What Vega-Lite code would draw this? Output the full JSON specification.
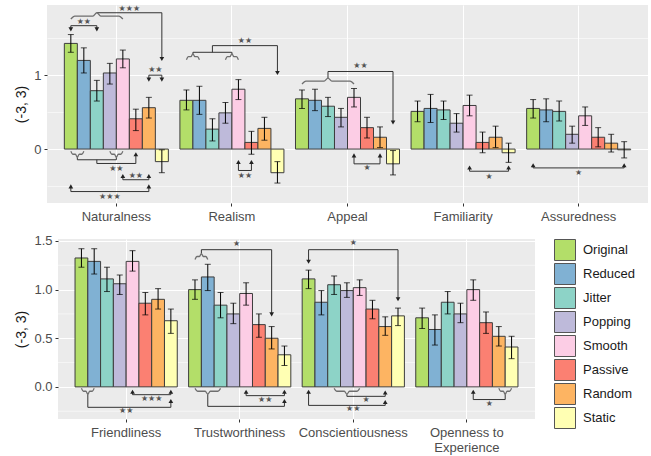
{
  "$schema": "https://vega.github.io/schema/vega-lite/v6.json",
  "background": "white",
  "padding": {"left": 13, "top": 4, "right": 2, "bottom": 2},
  "columns": 2,
  "align": "none",
  "spacing": {"row": 10, "column": 0},
  "resolve": {"scale": {"fill": "independent"}, "legend": {"fill": "independent"}},
  "config": {
    "font": "Liberation Sans",
    "view": {"fill": "#ebebeb", "stroke": null},
    "axis": {
      "domain": false,
      "minExtent": 0,
      "tickColor": "#333333",
      "tickSize": 3,
      "labelColor": "#4d4d4d",
      "labelFontSize": 13,
      "labelFont": "Liberation Sans",
      "titleFont": "Liberation Sans",
      "titleFontSize": 14,
      "titleFontWeight": "normal",
      "titleColor": "#1a1a1a",
      "gridColor": "white"
    },
    "axisY": {"minExtent": 0},
    "legend": {
      "title": null,
      "symbolType": "square",
      "symbolSize": 441,
      "symbolStrokeColor": "#555555",
      "symbolStrokeWidth": 1,
      "symbolOpacity": 1,
      "labelFontSize": 13,
      "labelFont": "Liberation Sans",
      "labelColor": "#1a1a1a",
      "rowPadding": -3.6,
      "labelOffset": 7,
      "offset": 19,
      "padding": 0
    }
  },
  "datasets": {
    "top": [
      {"trait": "Naturalness", "cond": "Original", "m": 1.43, "lo": 1.31, "hi": 1.55},
      {"trait": "Naturalness", "cond": "Reduced", "m": 1.20, "lo": 1.03, "hi": 1.37},
      {"trait": "Naturalness", "cond": "Jitter", "m": 0.79, "lo": 0.65, "hi": 0.93},
      {"trait": "Naturalness", "cond": "Popping", "m": 1.03, "lo": 0.88, "hi": 1.16},
      {"trait": "Naturalness", "cond": "Smooth", "m": 1.22, "lo": 1.10, "hi": 1.34},
      {"trait": "Naturalness", "cond": "Passive", "m": 0.41, "lo": 0.25, "hi": 0.54},
      {"trait": "Naturalness", "cond": "Random", "m": 0.56, "lo": 0.42, "hi": 0.70},
      {"trait": "Naturalness", "cond": "Static", "m": -0.17, "lo": -0.32, "hi": -0.01},
      {"trait": "Realism", "cond": "Original", "m": 0.66, "lo": 0.53, "hi": 0.80},
      {"trait": "Realism", "cond": "Reduced", "m": 0.66, "lo": 0.47, "hi": 0.85},
      {"trait": "Realism", "cond": "Jitter", "m": 0.27, "lo": 0.11, "hi": 0.41},
      {"trait": "Realism", "cond": "Popping", "m": 0.49, "lo": 0.35, "hi": 0.63},
      {"trait": "Realism", "cond": "Smooth", "m": 0.81, "lo": 0.67, "hi": 0.94},
      {"trait": "Realism", "cond": "Passive", "m": 0.09, "lo": -0.07, "hi": 0.24},
      {"trait": "Realism", "cond": "Random", "m": 0.28, "lo": 0.12, "hi": 0.43},
      {"trait": "Realism", "cond": "Static", "m": -0.32, "lo": -0.46, "hi": -0.17},
      {"trait": "Appeal", "cond": "Original", "m": 0.68, "lo": 0.55, "hi": 0.80},
      {"trait": "Appeal", "cond": "Reduced", "m": 0.66, "lo": 0.52, "hi": 0.81},
      {"trait": "Appeal", "cond": "Jitter", "m": 0.58, "lo": 0.44, "hi": 0.70},
      {"trait": "Appeal", "cond": "Popping", "m": 0.43, "lo": 0.30, "hi": 0.55},
      {"trait": "Appeal", "cond": "Smooth", "m": 0.70, "lo": 0.57, "hi": 0.82},
      {"trait": "Appeal", "cond": "Passive", "m": 0.29, "lo": 0.15, "hi": 0.43},
      {"trait": "Appeal", "cond": "Random", "m": 0.16, "lo": 0.02, "hi": 0.30},
      {"trait": "Appeal", "cond": "Static", "m": -0.20, "lo": -0.35, "hi": -0.02},
      {"trait": "Familiarity", "cond": "Original", "m": 0.51, "lo": 0.37, "hi": 0.65},
      {"trait": "Familiarity", "cond": "Reduced", "m": 0.55, "lo": 0.36, "hi": 0.74},
      {"trait": "Familiarity", "cond": "Jitter", "m": 0.53, "lo": 0.40, "hi": 0.65},
      {"trait": "Familiarity", "cond": "Popping", "m": 0.35, "lo": 0.23, "hi": 0.48},
      {"trait": "Familiarity", "cond": "Smooth", "m": 0.59, "lo": 0.45, "hi": 0.73},
      {"trait": "Familiarity", "cond": "Passive", "m": 0.09, "lo": -0.05, "hi": 0.23},
      {"trait": "Familiarity", "cond": "Random", "m": 0.16, "lo": 0.02, "hi": 0.31},
      {"trait": "Familiarity", "cond": "Static", "m": -0.05, "lo": -0.18, "hi": 0.08},
      {"trait": "Assuredness", "cond": "Original", "m": 0.55, "lo": 0.42, "hi": 0.67},
      {"trait": "Assuredness", "cond": "Reduced", "m": 0.53, "lo": 0.37, "hi": 0.68},
      {"trait": "Assuredness", "cond": "Jitter", "m": 0.51, "lo": 0.38, "hi": 0.65},
      {"trait": "Assuredness", "cond": "Popping", "m": 0.20, "lo": 0.08, "hi": 0.31},
      {"trait": "Assuredness", "cond": "Smooth", "m": 0.45, "lo": 0.32, "hi": 0.57},
      {"trait": "Assuredness", "cond": "Passive", "m": 0.16, "lo": 0.03, "hi": 0.29},
      {"trait": "Assuredness", "cond": "Random", "m": 0.08, "lo": -0.04, "hi": 0.20},
      {"trait": "Assuredness", "cond": "Static", "m": -0.01, "lo": -0.12, "hi": 0.10}
    ],
    "bottom": [
      {"trait": "Friendliness", "cond": "Original", "m": 1.325, "lo": 1.23, "hi": 1.42},
      {"trait": "Friendliness", "cond": "Reduced", "m": 1.29, "lo": 1.16, "hi": 1.42},
      {"trait": "Friendliness", "cond": "Jitter", "m": 1.11, "lo": 0.98, "hi": 1.23},
      {"trait": "Friendliness", "cond": "Popping", "m": 1.06, "lo": 0.95, "hi": 1.15},
      {"trait": "Friendliness", "cond": "Smooth", "m": 1.29, "lo": 1.19, "hi": 1.40},
      {"trait": "Friendliness", "cond": "Passive", "m": 0.86, "lo": 0.74, "hi": 0.97},
      {"trait": "Friendliness", "cond": "Random", "m": 0.90, "lo": 0.80, "hi": 1.01},
      {"trait": "Friendliness", "cond": "Static", "m": 0.68, "lo": 0.55, "hi": 0.80},
      {"trait": "Trustworthiness", "cond": "Original", "m": 1.00, "lo": 0.90, "hi": 1.10},
      {"trait": "Trustworthiness", "cond": "Reduced", "m": 1.13, "lo": 0.99, "hi": 1.26},
      {"trait": "Trustworthiness", "cond": "Jitter", "m": 0.84, "lo": 0.71, "hi": 0.97},
      {"trait": "Trustworthiness", "cond": "Popping", "m": 0.75, "lo": 0.65, "hi": 0.86},
      {"trait": "Trustworthiness", "cond": "Smooth", "m": 0.96, "lo": 0.84, "hi": 1.07},
      {"trait": "Trustworthiness", "cond": "Passive", "m": 0.64, "lo": 0.51, "hi": 0.75},
      {"trait": "Trustworthiness", "cond": "Random", "m": 0.50, "lo": 0.39, "hi": 0.62},
      {"trait": "Trustworthiness", "cond": "Static", "m": 0.33, "lo": 0.22, "hi": 0.42},
      {"trait": "Conscientiousness", "cond": "Original", "m": 1.11, "lo": 1.01, "hi": 1.20},
      {"trait": "Conscientiousness", "cond": "Reduced", "m": 0.87, "lo": 0.74, "hi": 0.99},
      {"trait": "Conscientiousness", "cond": "Jitter", "m": 1.05, "lo": 0.95, "hi": 1.14},
      {"trait": "Conscientiousness", "cond": "Popping", "m": 0.99, "lo": 0.92, "hi": 1.07},
      {"trait": "Conscientiousness", "cond": "Smooth", "m": 1.02, "lo": 0.94, "hi": 1.10},
      {"trait": "Conscientiousness", "cond": "Passive", "m": 0.80, "lo": 0.70, "hi": 0.89},
      {"trait": "Conscientiousness", "cond": "Random", "m": 0.62, "lo": 0.53, "hi": 0.72},
      {"trait": "Conscientiousness", "cond": "Static", "m": 0.73, "lo": 0.63, "hi": 0.81},
      {"trait": "Openness to Experience", "cond": "Original", "m": 0.71, "lo": 0.60, "hi": 0.81},
      {"trait": "Openness to Experience", "cond": "Reduced", "m": 0.59, "lo": 0.43, "hi": 0.74},
      {"trait": "Openness to Experience", "cond": "Jitter", "m": 0.87, "lo": 0.75, "hi": 0.98},
      {"trait": "Openness to Experience", "cond": "Popping", "m": 0.75, "lo": 0.66, "hi": 0.86},
      {"trait": "Openness to Experience", "cond": "Smooth", "m": 1.00, "lo": 0.89, "hi": 1.10},
      {"trait": "Openness to Experience", "cond": "Passive", "m": 0.66, "lo": 0.55, "hi": 0.77},
      {"trait": "Openness to Experience", "cond": "Random", "m": 0.52, "lo": 0.42, "hi": 0.62},
      {"trait": "Openness to Experience", "cond": "Static", "m": 0.41, "lo": 0.29, "hi": 0.52}
    ],
    "minor_bot": [{"g": -0.25}, {"g": 0.25}, {"g": 0.75}, {"g": 1.25}],
    "lines_top": [
      {"trait": "Naturalness", "g": "n1", "o": 1, "s": 2, "v": 1.845},
      {"trait": "Naturalness", "g": "n1", "o": 2, "s": 7, "v": 1.845},
      {"trait": "Naturalness", "g": "n1", "o": 3, "s": 7, "v": 1.22},
      {"trait": "Naturalness", "g": "n2", "o": 1, "s": 0, "v": 1.62},
      {"trait": "Naturalness", "g": "n2", "o": 2, "s": 0, "v": 1.67},
      {"trait": "Naturalness", "g": "n2", "o": 3, "s": 2, "v": 1.67},
      {"trait": "Naturalness", "g": "n2", "o": 4, "s": 2, "v": 1.62},
      {"trait": "Naturalness", "g": "n3", "o": 1, "s": 6, "v": 0.94},
      {"trait": "Naturalness", "g": "n3", "o": 2, "s": 6, "v": 1.0},
      {"trait": "Naturalness", "g": "n3", "o": 3, "s": 7, "v": 1.0},
      {"trait": "Naturalness", "g": "n3", "o": 4, "s": 7, "v": 0.94},
      {"trait": "Naturalness", "g": "n4", "o": 1, "s": 0.5, "v": -0.11},
      {"trait": "Naturalness", "g": "n4", "o": 2, "s": 0.5, "v": -0.145},
      {"trait": "Naturalness", "g": "n4", "o": 3, "s": 3.5, "v": -0.145},
      {"trait": "Naturalness", "g": "n4", "o": 4, "s": 3.5, "v": -0.11},
      {"trait": "Naturalness", "g": "n5", "o": 1, "s": 2, "v": -0.145},
      {"trait": "Naturalness", "g": "n5", "o": 2, "s": 2, "v": -0.195},
      {"trait": "Naturalness", "g": "n5", "o": 3, "s": 5, "v": -0.195},
      {"trait": "Naturalness", "g": "n5", "o": 4, "s": 5, "v": -0.07},
      {"trait": "Naturalness", "g": "n6", "o": 1, "s": 4, "v": -0.365},
      {"trait": "Naturalness", "g": "n6", "o": 2, "s": 4, "v": -0.415},
      {"trait": "Naturalness", "g": "n6", "o": 3, "s": 6, "v": -0.415},
      {"trait": "Naturalness", "g": "n6", "o": 4, "s": 6, "v": -0.365},
      {"trait": "Naturalness", "g": "n7", "o": 1, "s": 0, "v": -0.505},
      {"trait": "Naturalness", "g": "n7", "o": 2, "s": 0, "v": -0.575},
      {"trait": "Naturalness", "g": "n7", "o": 3, "s": 6, "v": -0.575},
      {"trait": "Naturalness", "g": "n7", "o": 4, "s": 6, "v": -0.505},
      {"trait": "Realism", "g": "r1", "o": 1, "s": 0.5, "v": 1.29},
      {"trait": "Realism", "g": "r1", "o": 2, "s": 0.5, "v": 1.31},
      {"trait": "Realism", "g": "r1", "o": 3, "s": 3.5, "v": 1.31},
      {"trait": "Realism", "g": "r1", "o": 4, "s": 3.5, "v": 1.29},
      {"trait": "Realism", "g": "r2", "o": 1, "s": 2, "v": 1.31},
      {"trait": "Realism", "g": "r2", "o": 2, "s": 2, "v": 1.40},
      {"trait": "Realism", "g": "r2", "o": 3, "s": 7, "v": 1.40},
      {"trait": "Realism", "g": "r2", "o": 4, "s": 7, "v": 1.03},
      {"trait": "Realism", "g": "r3", "o": 1, "s": 4, "v": -0.175},
      {"trait": "Realism", "g": "r3", "o": 2, "s": 4, "v": -0.29},
      {"trait": "Realism", "g": "r3", "o": 3, "s": 5, "v": -0.29},
      {"trait": "Realism", "g": "r3", "o": 4, "s": 5, "v": -0.175},
      {"trait": "Appeal", "g": "a1", "o": 1, "s": 2, "v": 0.96},
      {"trait": "Appeal", "g": "a1", "o": 2, "s": 2, "v": 1.05},
      {"trait": "Appeal", "g": "a1", "o": 3, "s": 7, "v": 1.05},
      {"trait": "Appeal", "g": "a1", "o": 4, "s": 7, "v": 0.36},
      {"trait": "Appeal", "g": "a2", "o": 1, "s": 4, "v": -0.085},
      {"trait": "Appeal", "g": "a2", "o": 2, "s": 4, "v": -0.20},
      {"trait": "Appeal", "g": "a2", "o": 3, "s": 6, "v": -0.20},
      {"trait": "Appeal", "g": "a2", "o": 4, "s": 6, "v": -0.085},
      {"trait": "Familiarity", "g": "f1", "o": 1, "s": 4, "v": -0.25},
      {"trait": "Familiarity", "g": "f1", "o": 2, "s": 4, "v": -0.30},
      {"trait": "Familiarity", "g": "f1", "o": 3, "s": 7, "v": -0.30},
      {"trait": "Familiarity", "g": "f1", "o": 4, "s": 7, "v": -0.25},
      {"trait": "Assuredness", "g": "s1", "o": 1, "s": 0, "v": -0.22},
      {"trait": "Assuredness", "g": "s1", "o": 2, "s": 0, "v": -0.255},
      {"trait": "Assuredness", "g": "s1", "o": 3, "s": 7, "v": -0.255},
      {"trait": "Assuredness", "g": "s1", "o": 4, "s": 7, "v": -0.22}
    ],
    "braces_top": [
      {"trait": "Naturalness", "g": "nb1", "o": 1, "s": 0, "v": 1.76},
      {"trait": "Naturalness", "g": "nb1", "o": 2, "s": 0.3, "v": 1.80},
      {"trait": "Naturalness", "g": "nb1", "o": 3, "s": 1.7, "v": 1.80},
      {"trait": "Naturalness", "g": "nb1", "o": 4, "s": 2, "v": 1.845},
      {"trait": "Naturalness", "g": "nb1", "o": 5, "s": 2.3, "v": 1.80},
      {"trait": "Naturalness", "g": "nb1", "o": 6, "s": 3.7, "v": 1.80},
      {"trait": "Naturalness", "g": "nb1", "o": 7, "s": 4, "v": 1.76},
      {"trait": "Naturalness", "g": "nb2", "o": 1, "s": 0, "v": -0.03},
      {"trait": "Naturalness", "g": "nb2", "o": 2, "s": 0.15, "v": -0.07},
      {"trait": "Naturalness", "g": "nb2", "o": 3, "s": 0.35, "v": -0.07},
      {"trait": "Naturalness", "g": "nb2", "o": 4, "s": 0.5, "v": -0.11},
      {"trait": "Naturalness", "g": "nb2", "o": 5, "s": 0.65, "v": -0.07},
      {"trait": "Naturalness", "g": "nb2", "o": 6, "s": 0.85, "v": -0.07},
      {"trait": "Naturalness", "g": "nb2", "o": 7, "s": 1, "v": -0.03},
      {"trait": "Naturalness", "g": "nb3", "o": 1, "s": 3, "v": -0.03},
      {"trait": "Naturalness", "g": "nb3", "o": 2, "s": 3.15, "v": -0.07},
      {"trait": "Naturalness", "g": "nb3", "o": 3, "s": 3.35, "v": -0.07},
      {"trait": "Naturalness", "g": "nb3", "o": 4, "s": 3.5, "v": -0.11},
      {"trait": "Naturalness", "g": "nb3", "o": 5, "s": 3.65, "v": -0.07},
      {"trait": "Naturalness", "g": "nb3", "o": 6, "s": 3.85, "v": -0.07},
      {"trait": "Naturalness", "g": "nb3", "o": 7, "s": 4, "v": -0.03},
      {"trait": "Realism", "g": "rb1", "o": 1, "s": 0, "v": 1.21},
      {"trait": "Realism", "g": "rb1", "o": 2, "s": 0.15, "v": 1.25},
      {"trait": "Realism", "g": "rb1", "o": 3, "s": 0.35, "v": 1.25},
      {"trait": "Realism", "g": "rb1", "o": 4, "s": 0.5, "v": 1.29},
      {"trait": "Realism", "g": "rb1", "o": 5, "s": 0.65, "v": 1.25},
      {"trait": "Realism", "g": "rb1", "o": 6, "s": 0.85, "v": 1.25},
      {"trait": "Realism", "g": "rb1", "o": 7, "s": 1, "v": 1.21},
      {"trait": "Realism", "g": "rb2", "o": 1, "s": 3, "v": 1.21},
      {"trait": "Realism", "g": "rb2", "o": 2, "s": 3.15, "v": 1.25},
      {"trait": "Realism", "g": "rb2", "o": 3, "s": 3.35, "v": 1.25},
      {"trait": "Realism", "g": "rb2", "o": 4, "s": 3.5, "v": 1.29},
      {"trait": "Realism", "g": "rb2", "o": 5, "s": 3.65, "v": 1.25},
      {"trait": "Realism", "g": "rb2", "o": 6, "s": 3.85, "v": 1.25},
      {"trait": "Realism", "g": "rb2", "o": 7, "s": 4, "v": 1.21},
      {"trait": "Appeal", "g": "ab1", "o": 1, "s": 0, "v": 0.88},
      {"trait": "Appeal", "g": "ab1", "o": 2, "s": 0.3, "v": 0.92},
      {"trait": "Appeal", "g": "ab1", "o": 3, "s": 1.7, "v": 0.92},
      {"trait": "Appeal", "g": "ab1", "o": 4, "s": 2, "v": 0.96},
      {"trait": "Appeal", "g": "ab1", "o": 5, "s": 2.3, "v": 0.92},
      {"trait": "Appeal", "g": "ab1", "o": 6, "s": 3.7, "v": 0.92},
      {"trait": "Appeal", "g": "ab1", "o": 7, "s": 4, "v": 0.88}
    ],
    "arrows_top": [
      {"trait": "Naturalness", "s": 7, "v": 1.22, "dir": "down"},
      {"trait": "Naturalness", "s": 0, "v": 1.62, "dir": "down"},
      {"trait": "Naturalness", "s": 2, "v": 1.62, "dir": "down"},
      {"trait": "Naturalness", "s": 6, "v": 0.94, "dir": "down"},
      {"trait": "Naturalness", "s": 7, "v": 0.94, "dir": "down"},
      {"trait": "Naturalness", "s": 5, "v": -0.07, "dir": "up"},
      {"trait": "Naturalness", "s": 4, "v": -0.365, "dir": "up"},
      {"trait": "Naturalness", "s": 6, "v": -0.365, "dir": "up"},
      {"trait": "Naturalness", "s": 0, "v": -0.505, "dir": "up"},
      {"trait": "Naturalness", "s": 6, "v": -0.505, "dir": "up"},
      {"trait": "Realism", "s": 7, "v": 1.03, "dir": "down"},
      {"trait": "Realism", "s": 4, "v": -0.175, "dir": "up"},
      {"trait": "Realism", "s": 5, "v": -0.175, "dir": "up"},
      {"trait": "Appeal", "s": 7, "v": 0.36, "dir": "down"},
      {"trait": "Appeal", "s": 4, "v": -0.085, "dir": "up"},
      {"trait": "Appeal", "s": 6, "v": -0.085, "dir": "up"},
      {"trait": "Familiarity", "s": 4, "v": -0.25, "dir": "up"},
      {"trait": "Familiarity", "s": 7, "v": -0.25, "dir": "up"},
      {"trait": "Assuredness", "s": 0, "v": -0.22, "dir": "up"},
      {"trait": "Assuredness", "s": 7, "v": -0.22, "dir": "up"}
    ],
    "stars_top": [
      {"trait": "Naturalness", "s": 4.5, "v": 1.90, "t": "★★★"},
      {"trait": "Naturalness", "s": 1, "v": 1.72, "t": "★★"},
      {"trait": "Naturalness", "s": 6.5, "v": 1.07, "t": "★★"},
      {"trait": "Naturalness", "s": 3.5, "v": -0.27, "t": "★★"},
      {"trait": "Naturalness", "s": 5, "v": -0.36, "t": "★★"},
      {"trait": "Naturalness", "s": 3, "v": -0.65, "t": "★★★"},
      {"trait": "Realism", "s": 4.5, "v": 1.46, "t": "★★"},
      {"trait": "Realism", "s": 4.5, "v": -0.37, "t": "★★"},
      {"trait": "Appeal", "s": 4.5, "v": 1.13, "t": "★★"},
      {"trait": "Appeal", "s": 5, "v": -0.26, "t": "★"},
      {"trait": "Familiarity", "s": 5.5, "v": -0.375, "t": "★"},
      {"trait": "Assuredness", "s": 3.5, "v": -0.33, "t": "★"}
    ],
    "lines_bot": [
      {"trait": "Friendliness", "g": "F1", "o": 1, "s": 0.5, "v": -0.075},
      {"trait": "Friendliness", "g": "F1", "o": 2, "s": 0.5, "v": -0.21},
      {"trait": "Friendliness", "g": "F1", "o": 3, "s": 7, "v": -0.21},
      {"trait": "Friendliness", "g": "F1", "o": 4, "s": 7, "v": -0.145},
      {"trait": "Friendliness", "g": "F2", "o": 1, "s": 4, "v": -0.05},
      {"trait": "Friendliness", "g": "F2", "o": 2, "s": 4, "v": -0.08},
      {"trait": "Friendliness", "g": "F2", "o": 3, "s": 7, "v": -0.08},
      {"trait": "Friendliness", "g": "F2", "o": 4, "s": 7, "v": -0.05},
      {"trait": "Trustworthiness", "g": "T1", "o": 1, "s": 0.5, "v": 1.37},
      {"trait": "Trustworthiness", "g": "T1", "o": 2, "s": 0.5, "v": 1.41},
      {"trait": "Trustworthiness", "g": "T1", "o": 3, "s": 6, "v": 1.41},
      {"trait": "Trustworthiness", "g": "T1", "o": 4, "s": 6, "v": 0.745},
      {"trait": "Trustworthiness", "g": "T2", "o": 1, "s": 1, "v": -0.075},
      {"trait": "Trustworthiness", "g": "T2", "o": 2, "s": 1, "v": -0.20},
      {"trait": "Trustworthiness", "g": "T2", "o": 3, "s": 7, "v": -0.20},
      {"trait": "Trustworthiness", "g": "T2", "o": 4, "s": 7, "v": -0.145},
      {"trait": "Trustworthiness", "g": "T3", "o": 1, "s": 4, "v": -0.05},
      {"trait": "Trustworthiness", "g": "T3", "o": 2, "s": 4, "v": -0.09},
      {"trait": "Trustworthiness", "g": "T3", "o": 3, "s": 7, "v": -0.09},
      {"trait": "Trustworthiness", "g": "T3", "o": 4, "s": 7, "v": -0.05},
      {"trait": "Conscientiousness", "g": "C1", "o": 1, "s": 0, "v": 1.287},
      {"trait": "Conscientiousness", "g": "C1", "o": 2, "s": 0, "v": 1.41},
      {"trait": "Conscientiousness", "g": "C1", "o": 3, "s": 7, "v": 1.41},
      {"trait": "Conscientiousness", "g": "C1", "o": 4, "s": 7, "v": 0.90},
      {"trait": "Conscientiousness", "g": "C2", "o": 1, "s": 3, "v": -0.075},
      {"trait": "Conscientiousness", "g": "C2", "o": 2, "s": 3, "v": -0.097},
      {"trait": "Conscientiousness", "g": "C2", "o": 3, "s": 6, "v": -0.097},
      {"trait": "Conscientiousness", "g": "C2", "o": 4, "s": 6, "v": -0.058},
      {"trait": "Conscientiousness", "g": "C3", "o": 1, "s": 0, "v": -0.05},
      {"trait": "Conscientiousness", "g": "C3", "o": 2, "s": 0, "v": -0.19},
      {"trait": "Conscientiousness", "g": "C3", "o": 3, "s": 6, "v": -0.19},
      {"trait": "Conscientiousness", "g": "C3", "o": 4, "s": 6, "v": -0.155},
      {"trait": "Openness to Experience", "g": "O1", "o": 1, "s": 4, "v": -0.05},
      {"trait": "Openness to Experience", "g": "O1", "o": 2, "s": 4, "v": -0.13},
      {"trait": "Openness to Experience", "g": "O1", "o": 3, "s": 6.5, "v": -0.13},
      {"trait": "Openness to Experience", "g": "O1", "o": 4, "s": 6.5, "v": -0.075}
    ],
    "braces_bot": [
      {"trait": "Friendliness", "g": "Fb", "o": 1, "s": 0, "v": -0.015},
      {"trait": "Friendliness", "g": "Fb", "o": 2, "s": 0.15, "v": -0.045},
      {"trait": "Friendliness", "g": "Fb", "o": 3, "s": 0.35, "v": -0.045},
      {"trait": "Friendliness", "g": "Fb", "o": 4, "s": 0.5, "v": -0.075},
      {"trait": "Friendliness", "g": "Fb", "o": 5, "s": 0.65, "v": -0.045},
      {"trait": "Friendliness", "g": "Fb", "o": 6, "s": 0.85, "v": -0.045},
      {"trait": "Friendliness", "g": "Fb", "o": 7, "s": 1, "v": -0.015},
      {"trait": "Trustworthiness", "g": "Tb1", "o": 1, "s": 0, "v": 1.31},
      {"trait": "Trustworthiness", "g": "Tb1", "o": 2, "s": 0.15, "v": 1.34},
      {"trait": "Trustworthiness", "g": "Tb1", "o": 3, "s": 0.35, "v": 1.34},
      {"trait": "Trustworthiness", "g": "Tb1", "o": 4, "s": 0.5, "v": 1.37},
      {"trait": "Trustworthiness", "g": "Tb1", "o": 5, "s": 0.65, "v": 1.34},
      {"trait": "Trustworthiness", "g": "Tb1", "o": 6, "s": 0.85, "v": 1.34},
      {"trait": "Trustworthiness", "g": "Tb1", "o": 7, "s": 1, "v": 1.31},
      {"trait": "Trustworthiness", "g": "Tb2", "o": 1, "s": 0, "v": -0.015},
      {"trait": "Trustworthiness", "g": "Tb2", "o": 2, "s": 0.2, "v": -0.045},
      {"trait": "Trustworthiness", "g": "Tb2", "o": 3, "s": 0.8, "v": -0.045},
      {"trait": "Trustworthiness", "g": "Tb2", "o": 4, "s": 1, "v": -0.075},
      {"trait": "Trustworthiness", "g": "Tb2", "o": 5, "s": 1.2, "v": -0.045},
      {"trait": "Trustworthiness", "g": "Tb2", "o": 6, "s": 1.8, "v": -0.045},
      {"trait": "Trustworthiness", "g": "Tb2", "o": 7, "s": 2, "v": -0.015},
      {"trait": "Conscientiousness", "g": "Cb", "o": 1, "s": 2, "v": -0.015},
      {"trait": "Conscientiousness", "g": "Cb", "o": 2, "s": 2.2, "v": -0.045},
      {"trait": "Conscientiousness", "g": "Cb", "o": 3, "s": 2.8, "v": -0.045},
      {"trait": "Conscientiousness", "g": "Cb", "o": 4, "s": 3, "v": -0.075},
      {"trait": "Conscientiousness", "g": "Cb", "o": 5, "s": 3.2, "v": -0.045},
      {"trait": "Conscientiousness", "g": "Cb", "o": 6, "s": 3.8, "v": -0.045},
      {"trait": "Conscientiousness", "g": "Cb", "o": 7, "s": 4, "v": -0.015},
      {"trait": "Openness to Experience", "g": "Ob", "o": 1, "s": 6, "v": -0.015},
      {"trait": "Openness to Experience", "g": "Ob", "o": 2, "s": 6.15, "v": -0.045},
      {"trait": "Openness to Experience", "g": "Ob", "o": 3, "s": 6.35, "v": -0.045},
      {"trait": "Openness to Experience", "g": "Ob", "o": 4, "s": 6.5, "v": -0.075},
      {"trait": "Openness to Experience", "g": "Ob", "o": 5, "s": 6.65, "v": -0.045},
      {"trait": "Openness to Experience", "g": "Ob", "o": 6, "s": 6.85, "v": -0.045},
      {"trait": "Openness to Experience", "g": "Ob", "o": 7, "s": 7, "v": -0.015}
    ],
    "arrows_bot": [
      {"trait": "Friendliness", "s": 7, "v": -0.145, "dir": "up"},
      {"trait": "Friendliness", "s": 4, "v": -0.05, "dir": "up"},
      {"trait": "Friendliness", "s": 7, "v": -0.05, "dir": "up"},
      {"trait": "Trustworthiness", "s": 6, "v": 0.745, "dir": "down"},
      {"trait": "Trustworthiness", "s": 7, "v": -0.145, "dir": "up"},
      {"trait": "Trustworthiness", "s": 4, "v": -0.05, "dir": "up"},
      {"trait": "Trustworthiness", "s": 7, "v": -0.05, "dir": "up"},
      {"trait": "Conscientiousness", "s": 0, "v": 1.287, "dir": "down"},
      {"trait": "Conscientiousness", "s": 7, "v": 0.90, "dir": "down"},
      {"trait": "Conscientiousness", "s": 6, "v": -0.058, "dir": "up"},
      {"trait": "Conscientiousness", "s": 0, "v": -0.05, "dir": "up"},
      {"trait": "Conscientiousness", "s": 6, "v": -0.155, "dir": "up"},
      {"trait": "Openness to Experience", "s": 4, "v": -0.05, "dir": "up"}
    ],
    "stars_bot": [
      {"trait": "Friendliness", "s": 3.5, "v": -0.245, "t": "★★"},
      {"trait": "Friendliness", "s": 5.5, "v": -0.125, "t": "★★★"},
      {"trait": "Trustworthiness", "s": 3.25, "v": 1.47, "t": "★"},
      {"trait": "Trustworthiness", "s": 5.5, "v": -0.135, "t": "★★"},
      {"trait": "Conscientiousness", "s": 3.5, "v": 1.48, "t": "★"},
      {"trait": "Conscientiousness", "s": 4.5, "v": -0.135, "t": "★"},
      {"trait": "Conscientiousness", "s": 3.5, "v": -0.23, "t": "★★"},
      {"trait": "Openness to Experience", "s": 5.25, "v": -0.175, "t": "★"}
    ]
  },
  "concat": [
    {
      "width": 1,
      "height": 1,
      "view": {"fill": null, "stroke": null},
      "data": {"values": []},
      "mark": {"type": "point", "opacity": 0}
    },
    {
      "width": 601,
      "height": 198,
      "resolve": {"scale": {"xOffset": "independent"}},
      "encoding": {
        "x": {
          "field": "trait", "type": "nominal", "title": null,
          "sort": ["Naturalness", "Realism", "Appeal", "Familiarity", "Assuredness"],
          "scale": {"paddingInner": 0.1, "paddingOuter": 0.15},
          "axis": {"labelAngle": 0, "grid": true, "gridWidth": 1.1, "bandPosition": 0.5, "labelPadding": 4.5}
        }
      },
      "layer": [
        {
          "data": {"name": "top"},
          "encoding": {
            "xOffset": {
              "field": "cond", "type": "nominal",
              "sort": ["Original", "Reduced", "Jitter", "Popping", "Smooth", "Passive", "Random", "Static"],
              "scale": {"paddingInner": 0, "paddingOuter": 0}
            }
          },
          "layer": [
            {
              "mark": {"type": "bar", "stroke": "#3d3d3d", "strokeWidth": 1},
              "encoding": {
                "y": {
                  "field": "m", "type": "quantitative", "stack": null, "title": "(-3, 3)",
                  "scale": {"domain": [-0.73, 1.95], "nice": false},
                  "axis": {
                    "values": [-0.5, 0, 0.5, 1, 1.5],
                    "minExtent": 0,
                    "labelExpr": "indexof([0, 1], datum.value) >= 0 ? format(datum.value, 'd') : ''",
                    "gridWidth": {"condition": {"test": "indexof([0, 1], datum.value) >= 0", "value": 1.1}, "value": 0.55},
                    "tickOpacity": {"condition": {"test": "indexof([0, 1], datum.value) >= 0", "value": 1}, "value": 0},
                    "labelPadding": 3,
                    "titlePadding": 5
                  }
                },
                "fill": {
                  "field": "cond", "type": "nominal", "legend": null,
                  "scale": {
                    "domain": ["Original", "Reduced", "Jitter", "Popping", "Smooth", "Passive", "Random", "Static"],
                    "range": ["#b3de69", "#80b1d3", "#8dd3c7", "#bebada", "#fccde5", "#fb8072", "#fdb462", "#ffffb3"]
                  }
                }
              }
            },
            {
              "mark": {"type": "rule", "color": "black", "strokeWidth": 1},
              "encoding": {"y": {"field": "lo", "type": "quantitative"}, "y2": {"field": "hi"}}
            },
            {
              "mark": {"type": "tick", "color": "black", "thickness": 1, "size": 6, "orient": "horizontal"},
              "encoding": {"y": {"field": "lo", "type": "quantitative"}}
            },
            {
              "mark": {"type": "tick", "color": "black", "thickness": 1, "size": 6, "orient": "horizontal"},
              "encoding": {"y": {"field": "hi", "type": "quantitative"}}
            }
          ]
        },
        {
          "data": {"name": "lines_top"},
          "mark": {"type": "line", "color": "#333333", "strokeWidth": 1},
          "encoding": {
            "xOffset": {"field": "s", "type": "quantitative", "scale": {"domain": [-0.5, 7.5], "nice": false, "zero": false}},
            "y": {"field": "v", "type": "quantitative", "scale": {"domain": [-0.73, 1.95], "nice": false}},
            "detail": {"field": "g", "type": "nominal"},
            "order": {"field": "o", "type": "quantitative"}
          }
        },
        {
          "data": {"name": "braces_top"},
          "mark": {"type": "line", "color": "#6e6e6e", "strokeWidth": 1.3, "interpolate": "monotone"},
          "encoding": {
            "xOffset": {"field": "s", "type": "quantitative", "scale": {"domain": [-0.5, 7.5], "nice": false, "zero": false}},
            "y": {"field": "v", "type": "quantitative", "scale": {"domain": [-0.73, 1.95], "nice": false}},
            "detail": {"field": "g", "type": "nominal"},
            "order": {"field": "o", "type": "quantitative"}
          }
        },
        {
          "data": {"name": "arrows_top"},
          "mark": {"type": "point", "filled": true, "color": "#222222", "size": 22, "opacity": 1},
          "encoding": {
            "xOffset": {"field": "s", "type": "quantitative", "scale": {"domain": [-0.5, 7.5], "nice": false, "zero": false}},
            "y": {"field": "v", "type": "quantitative", "scale": {"domain": [-0.73, 1.95], "nice": false}},
            "shape": {"field": "dir", "type": "nominal", "legend": null, "scale": {"domain": ["up", "down"], "range": ["triangle-up", "triangle-down"]}}
          }
        },
        {
          "data": {"name": "stars_top"},
          "mark": {"type": "text", "font": "DejaVu Sans", "fontSize": 8, "color": "#555555", "baseline": "middle", "align": "center"},
          "encoding": {
            "xOffset": {"field": "s", "type": "quantitative", "scale": {"domain": [-0.5, 7.5], "nice": false, "zero": false}},
            "y": {"field": "v", "type": "quantitative", "scale": {"domain": [-0.73, 1.95], "nice": false}},
            "text": {"field": "t", "type": "nominal"}
          }
        }
      ]
    },
    {
      "width": 1,
      "height": 1,
      "view": {"fill": null, "stroke": null},
      "data": {"values": []},
      "mark": {"type": "point", "opacity": 0}
    },
    {
      "width": 477,
      "height": 180,
      "resolve": {"scale": {"xOffset": "independent"}},
      "layer": [
        {
          "data": {"name": "minor_bot"},
          "mark": {"type": "rule", "color": "white", "strokeWidth": 0.55},
          "encoding": {
            "y": {"field": "g", "type": "quantitative", "scale": {"domain": [-0.33, 1.52], "nice": false}}
          }
        },
        {
          "data": {"name": "bottom"},
          "encoding": {
            "x": {
              "field": "trait", "type": "nominal", "title": null,
              "sort": ["Friendliness", "Trustworthiness", "Conscientiousness", "Openness to Experience"],
              "scale": {"paddingInner": 0.1, "paddingOuter": 0.15},
              "axis": {
                "labelAngle": 0, "grid": true, "gridWidth": 1.1, "bandPosition": 0.5, "labelPadding": 4.5,
                "labelLineHeight": 14.5,
                "labelExpr": "datum.label == 'Openness to Experience' ? ['Openness to', 'Experience'] : datum.label"
              }
            },
            "xOffset": {
              "field": "cond", "type": "nominal",
              "sort": ["Original", "Reduced", "Jitter", "Popping", "Smooth", "Passive", "Random", "Static"],
              "scale": {"paddingInner": 0, "paddingOuter": 0}
            }
          },
          "layer": [
            {
              "mark": {"type": "bar", "stroke": "#3d3d3d", "strokeWidth": 1},
              "encoding": {
                "y": {
                  "field": "m", "type": "quantitative", "stack": null, "title": "(-3, 3)",
                  "scale": {"domain": [-0.33, 1.52], "nice": false},
                  "axis": {
                    "values": [0, 0.5, 1, 1.5],
                    "format": ".1f",
                    "minExtent": 0,
                    "gridWidth": 1.1,
                    "labelPadding": 3,
                    "titlePadding": 5
                  }
                },
                "fill": {
                  "field": "cond", "type": "nominal",
                  "legend": {"rowPadding": -3.6, "symbolSize": 441, "symbolType": "square", "offset": 19},
                  "scale": {
                    "domain": ["Original", "Reduced", "Jitter", "Popping", "Smooth", "Passive", "Random", "Static"],
                    "range": ["#b3de69", "#80b1d3", "#8dd3c7", "#bebada", "#fccde5", "#fb8072", "#fdb462", "#ffffb3"]
                  }
                }
              }
            },
            {
              "mark": {"type": "rule", "color": "black", "strokeWidth": 1},
              "encoding": {"y": {"field": "lo", "type": "quantitative"}, "y2": {"field": "hi"}}
            },
            {
              "mark": {"type": "tick", "color": "black", "thickness": 1, "size": 6, "orient": "horizontal"},
              "encoding": {"y": {"field": "lo", "type": "quantitative"}}
            },
            {
              "mark": {"type": "tick", "color": "black", "thickness": 1, "size": 6, "orient": "horizontal"},
              "encoding": {"y": {"field": "hi", "type": "quantitative"}}
            }
          ]
        },
        {
          "encoding": {
            "x": {
              "field": "trait", "type": "nominal",
              "sort": ["Friendliness", "Trustworthiness", "Conscientiousness", "Openness to Experience"]
            },
            "xOffset": {"field": "s", "type": "quantitative", "scale": {"domain": [-0.5, 7.5], "nice": false, "zero": false}},
            "y": {"field": "v", "type": "quantitative", "scale": {"domain": [-0.33, 1.52], "nice": false}}
          },
          "layer": [
            {
              "data": {"name": "lines_bot"},
              "mark": {"type": "line", "color": "#333333", "strokeWidth": 1},
              "encoding": {
                "detail": {"field": "g", "type": "nominal"},
                "order": {"field": "o", "type": "quantitative"}
              }
            },
            {
              "data": {"name": "braces_bot"},
              "mark": {"type": "line", "color": "#6e6e6e", "strokeWidth": 1.3, "interpolate": "monotone"},
              "encoding": {
                "detail": {"field": "g", "type": "nominal"},
                "order": {"field": "o", "type": "quantitative"}
              }
            },
            {
              "data": {"name": "arrows_bot"},
              "mark": {"type": "point", "filled": true, "color": "#222222", "size": 22, "opacity": 1},
              "encoding": {
                "shape": {"field": "dir", "type": "nominal", "legend": null, "scale": {"domain": ["up", "down"], "range": ["triangle-up", "triangle-down"]}}
              }
            },
            {
              "data": {"name": "stars_bot"},
              "mark": {"type": "text", "font": "DejaVu Sans", "fontSize": 8, "color": "#555555", "baseline": "middle", "align": "center"},
              "encoding": {
                "text": {"field": "t", "type": "nominal"}
              }
            }
          ]
        }
      ]
    }
  ]
}
